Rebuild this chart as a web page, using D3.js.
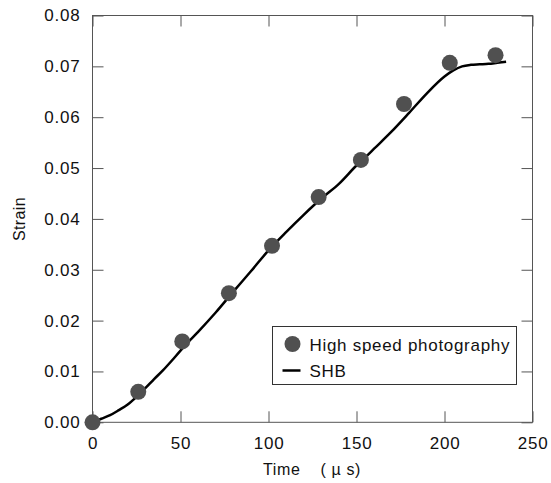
<!DOCTYPE html>
<html>
<head>
<style>
  body { margin: 0; background: #fff; }
  text { font-family: "Liberation Sans", Arial, sans-serif; fill: #111; }
</style>
</head>
<body>
<svg width="551" height="483"></svg>
<script src="https://d3js.org/d3.v7.min.js"></script>
<script>

// high speed photography points
var photoTime = [0, 26, 51, 77.5, 102, 128.5, 152.5, 177, 203, 229];
var photoStrain = [0, 0.006, 0.0159, 0.0254, 0.0347, 0.0443, 0.0516, 0.0626, 0.0707, 0.0722];

// SHB curve
var shbTime = [0, 5, 10, 15, 20, 25, 30, 35, 40, 45, 50, 55, 60, 70, 80, 90, 100, 110, 120, 130, 140, 150, 155, 160, 170, 180, 190, 200, 205, 210, 215, 220, 225, 230, 235];
var shbStrain = [0, 0.0007, 0.0014, 0.0024, 0.0035, 0.0050, 0.0067, 0.0085, 0.0102, 0.0121, 0.0141, 0.0160, 0.0178, 0.0216, 0.0257, 0.0297, 0.0338, 0.0374, 0.0408, 0.0440, 0.0469, 0.0505, 0.0521, 0.0538, 0.0572, 0.0609, 0.0647, 0.0680, 0.0692, 0.0700, 0.0703, 0.0704, 0.0705, 0.0707, 0.0709];

var xTicks = [0, 50, 100, 150, 200, 250];
var yTicks = [0, 0.01, 0.02, 0.03, 0.04, 0.05, 0.06, 0.07, 0.08];

var svg = d3.select("svg"),
  margin = {top: 15.5, right: 18.5, bottom: 60.7, left: 92.5},
  width = +svg.attr("width") - margin.left - margin.right,
  height = +svg.attr("height") - margin.top - margin.bottom,
  g = svg.append("g").attr("transform", "translate(" + margin.left + "," + margin.top + ")");

var x = d3.scaleLinear().domain([0, 250]).range([0, width]),
  y = d3.scaleLinear().domain([0, 0.08]).range([height, 0]);

var frameColor = "#555";

function styleAxis(sel, noLabels) {
  sel.select(".domain").remove();
  sel.selectAll(".tick line").attr("stroke", frameColor);
  sel.selectAll(".tick text")
    .style("font-size", "17px")
    .style("letter-spacing", "0.8px")
    .attr("fill", "#111");
  if (noLabels) sel.selectAll(".tick text").remove();
}

g.append("g")
    .attr("transform", "translate(0," + height + ")")
    .call(d3.axisBottom(x).tickValues(xTicks).tickSizeInner(-11).tickSizeOuter(0).tickPadding(15))
    .call(styleAxis);

g.append("g")
    .call(d3.axisLeft(y).tickValues(yTicks).tickFormat(d3.format(".2f")).tickSizeInner(-11).tickSizeOuter(0).tickPadding(12))
    .call(styleAxis);

g.append("g")
    .call(d3.axisTop(x).tickValues(xTicks).tickSizeInner(-11).tickSizeOuter(0))
    .call(styleAxis, true);

g.append("g")
    .attr("transform", "translate(" + width + ",0)")
    .call(d3.axisRight(y).tickValues(yTicks).tickSizeInner(-11).tickSizeOuter(0))
    .call(styleAxis, true);

g.append("rect")
    .attr("width", width)
    .attr("height", height)
    .attr("fill", "none")
    .attr("stroke", frameColor);

// SHB line
var shb = shbTime.map(function(t, i) { return [t, shbStrain[i]]; });
var line = d3.line()
  .curve(d3.curveMonotoneX)
  .x(function(d) { return x(d[0]); })
  .y(function(d) { return y(d[1]); });

g.append("path")
    .datum(shb)
    .attr("fill", "none")
    .attr("stroke", "#000")
    .attr("stroke-width", 2.5)
    .attr("d", line);

// photography markers
var photo = photoTime.map(function(t, i) { return [t, photoStrain[i]]; });
g.selectAll(".pt")
    .data(photo)
    .enter().append("circle")
    .attr("class", "pt")
    .attr("cx", function(d) { return x(d[0]); })
    .attr("cy", function(d) { return y(d[1]); })
    .attr("r", 8)
    .attr("fill", "#505050");

// axis titles
svg.append("text")
    .attr("x", 312)
    .attr("y", 475)
    .attr("text-anchor", "middle")
    .style("font-size", "16px")
    .style("letter-spacing", "0.6px")
    .style("white-space", "pre")
    .text("Time    ( µ s)");

svg.append("text")
    .attr("transform", "translate(25,219) rotate(-90)")
    .attr("text-anchor", "middle")
    .style("font-size", "16px")
    .style("letter-spacing", "0.4px")
    .text("Strain");

// legend
var legend = svg.append("g").attr("transform", "translate(272.5,326.5)");
legend.append("rect")
    .attr("width", 244)
    .attr("height", 58)
    .attr("fill", "#fff")
    .attr("stroke", "#333");
legend.append("circle").attr("cx", 20).attr("cy", 17.5).attr("r", 8).attr("fill", "#505050");
legend.append("line").attr("x1", 10).attr("x2", 28).attr("y1", 44).attr("y2", 44)
    .attr("stroke", "#000").attr("stroke-width", 2.5);
legend.append("text").attr("x", 37).attr("y", 24).style("font-size", "17px").style("letter-spacing", "0.7px").text("High speed photography");
legend.append("text").attr("x", 37).attr("y", 50).style("font-size", "17px").style("letter-spacing", "0.7px").text("SHB");

</script>
</body>
</html>
